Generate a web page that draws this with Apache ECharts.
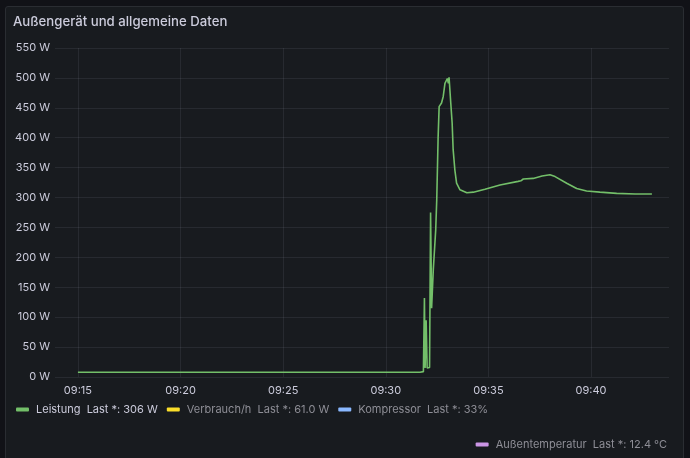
<!DOCTYPE html>
<html>
<head>
<meta charset="utf-8">
<script src="https://cdn.jsdelivr.net/npm/echarts@6/dist/echarts.min.js"></script>
<style>
  html, body { margin: 0; padding: 0; background: #111217; width: 690px; height: 458px; overflow: hidden; }
  #panel { position: absolute; left: 5px; top: 6px; width: 677px; height: 470px; background: #181b1f; border: 1px solid #2a2d32; border-radius: 3px; }
  #chart { position: absolute; left: 0; top: 0; width: 690px; height: 458px; }
</style>
</head>
<body>
<div id="panel"></div>
<div id="chart"></div>
<script>
// ---- data ----
const titleText = 'Außengerät und allgemeine Daten';
const times = [
  '09:15:00','09:20:57','09:25:49','09:31:40','09:31:50','09:31:52','09:31:53','09:31:55','09:31:58','09:32:01',
  '09:32:08','09:32:11','09:32:14','09:32:19','09:32:26','09:32:29','09:32:33','09:32:36','09:32:43','09:32:48',
  '09:32:53','09:32:56','09:33:00','09:33:03','09:33:05','09:33:10','09:33:14','09:33:17','09:33:22','09:33:27',
  '09:33:37','09:33:57','09:34:16','09:34:50','09:35:34','09:36:27','09:36:35','09:36:42','09:37:11','09:37:37',
  '09:38:00','09:38:15','09:38:49','09:39:18','09:39:47','09:40:26','09:41:15','09:42:09','09:42:58'
];
const leistung = [
  8, 8, 8, 8, 9, 12, 132, 15, 95, 15,
  16, 275, 115, 180, 246, 296, 400, 452, 458, 469,
  491, 489, 499, 491, 501, 458, 425, 380, 346, 324,
  313, 308, 309, 314, 321, 327, 328, 331, 332, 336,
  338, 335, 324, 315, 311, 309, 307, 306, 306
];
const seriesNames = ['Leistung', 'Verbrauch/h', 'Kompressor', 'Außentemperatur'];
const lastValues = ['306 W', '61.0 W', '33%', '12.4 °C'];
const seriesColors = ['#73bf69', '#fade2a', '#8ab8ff', '#ca95e5'];
const yTicks = [0, 50, 100, 150, 200, 250, 300, 350, 400, 450, 500, 550];
const xTickLabels = ['09:15', '09:20', '09:25', '09:30', '09:35', '09:40'];
const xMinTime = '09:13:53';
const xMaxTime = '09:43:48';

// ---- chart ----
const chart = echarts.init(document.getElementById('chart'), null, { renderer: 'canvas' });
const font = 'Inter, "Noto Sans", sans-serif';
// seconds since 09:00:00
const toSec = s => { const p = s.split(':').map(Number); return (p[0] - 9) * 3600 + p[1] * 60 + (p[2] || 0); };
const leistungData = times.map((t, i) => [toSec(t), leistung[i]]);
const xTickValues = xTickLabels.map(toSec);

function legendItem(i, active) {
  return {
    name: seriesNames[i],
    itemStyle: { color: seriesColors[i] },
    textStyle: { color: active ? '#ccccdc' : '#8e8e96' }
  };
}

const option = {
  backgroundColor: 'transparent',
  animation: false,
  textStyle: { fontFamily: font },
  title: {
    text: titleText, left: 13, top: 16, padding: 0,
    textStyle: { color: '#ccccdc', fontSize: 13.2, fontWeight: 500, fontFamily: font }
  },
  grid: { left: 55, right: 21, top: 48, bottom: 81 },
  xAxis: {
    type: 'value', min: toSec(xMinTime), max: toSec(xMaxTime),
    axisLine: { show: false },
    axisTick: { show: false, customValues: xTickValues },
    splitLine: { show: true, lineStyle: { color: 'rgba(204,204,220,0.09)', width: 1 } },
    axisLabel: {
      color: '#ccccdc', fontSize: 11, fontFamily: font, margin: 8,
      customValues: xTickValues,
      formatter: v => xTickLabels[xTickValues.indexOf(v)] || ''
    }
  },
  yAxis: {
    type: 'value', min: yTicks[0], max: yTicks[yTicks.length - 1], interval: 50,
    axisLine: { show: false }, axisTick: { show: false },
    splitLine: { show: true, lineStyle: { color: 'rgba(204,204,220,0.09)', width: 1 } },
    axisLabel: { color: '#ccccdc', fontSize: 11, fontFamily: font, margin: 5, formatter: '{value} W' }
  },
  legend: [
    {
      left: 16, top: 404, padding: 0, orient: 'horizontal', itemGap: 9,
      itemWidth: 13, itemHeight: 4, icon: 'roundRect',
      selectedMode: false,
      data: [legendItem(0, true), legendItem(1, false), legendItem(2, false)],
      textStyle: { fontSize: 11, fontFamily: font, padding: [0, 0, 0, 2] },
      formatter: name => name + '  Last *: ' + lastValues[seriesNames.indexOf(name)]
    },
    {
      right: 23, top: 439, padding: 0, orient: 'horizontal',
      itemWidth: 13, itemHeight: 4, icon: 'roundRect',
      selectedMode: false,
      data: [legendItem(3, false)],
      textStyle: { fontSize: 11, fontFamily: font, padding: [0, 0, 0, 2] },
      formatter: name => name + '  Last *: ' + lastValues[seriesNames.indexOf(name)]
    }
  ],
  series: [
    {
      name: seriesNames[0], type: 'line', data: leistungData, showSymbol: false,
      lineStyle: { color: seriesColors[0], width: 1.6 }, itemStyle: { color: seriesColors[0] }
    },
    { name: seriesNames[1], type: 'line', data: [], itemStyle: { color: seriesColors[1] } },
    { name: seriesNames[2], type: 'line', data: [], itemStyle: { color: seriesColors[2] } },
    { name: seriesNames[3], type: 'line', data: [], itemStyle: { color: seriesColors[3] } }
  ]
};
chart.setOption(option);
</script>
</body>
</html>
